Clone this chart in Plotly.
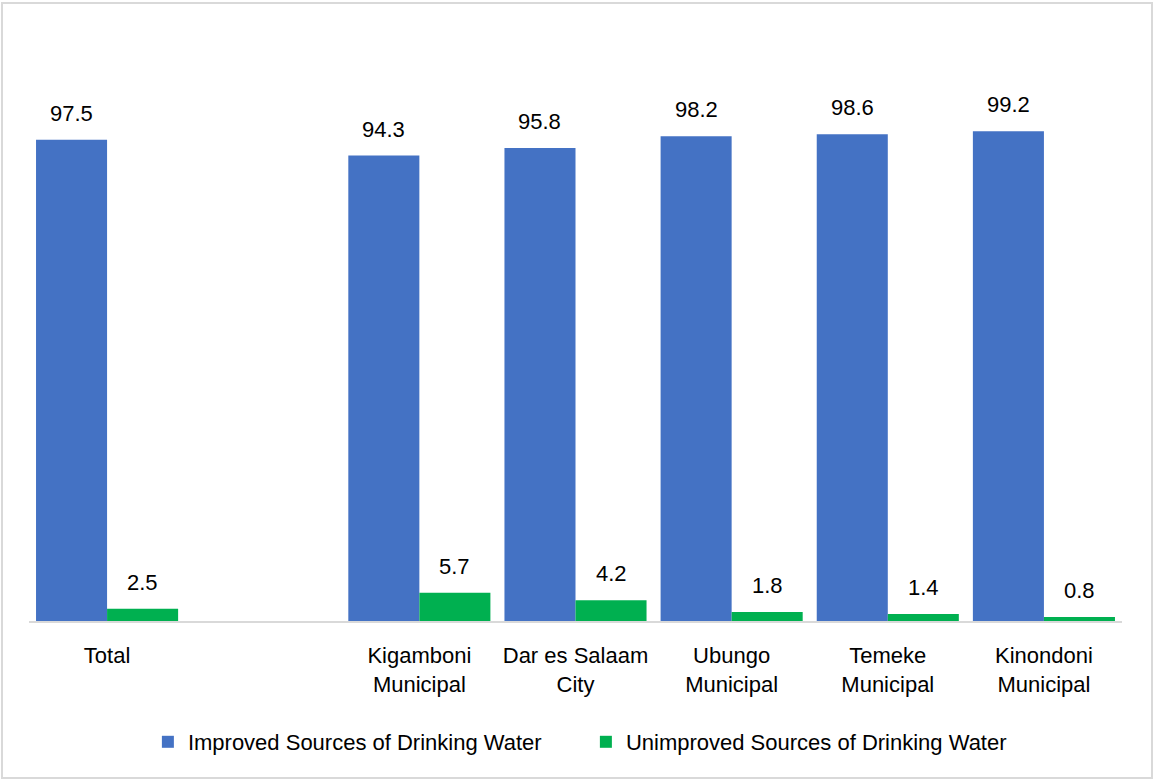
import plotly.graph_objects as go

# Share of households by source of drinking water (%)
categories = ["Total", "Kigamboni<br>Municipal", "Dar es Salaam<br>City",
              "Ubungo<br>Municipal", "Temeke<br>Municipal", "Kinondoni<br>Municipal"]
improved = [97.5, 94.3, 95.8, 98.2, 98.6, 99.2]
unimproved = [2.5, 5.7, 4.2, 1.8, 1.4, 0.8]
series_names = ["Improved Sources of Drinking Water", "Unimproved Sources of Drinking Water"]

# "Total" stands apart from the councils with one empty slot between them
positions = [0] + [i + 1 for i in range(1, len(categories))]

FONT = "Liberation Sans, Arial, sans-serif"
FS = 22
BLUE = "#4472C4"
GREEN = "#00B050"

W, H = 1154, 780
ML, MR, MT, MB = 29, 32, 78, 159
PW, PH = W - ML - MR, H - MT - MB

BARGAP = 0.09
half = (1 - BARGAP) / 4  # offset of each bar centre from its slot centre

fig = go.Figure()
fig.add_trace(go.Bar(x=positions, y=improved, name=series_names[0],
                     marker=dict(color=BLUE, line=dict(width=0))))
fig.add_trace(go.Bar(x=positions, y=unimproved, name=series_names[1],
                     marker=dict(color=GREEN, line=dict(width=0))))

# value labels sitting a little above each bar
for values, shift in ((improved, -half), (unimproved, half)):
    for p, v in zip(positions, values):
        fig.add_annotation(x=p + shift, y=v, text=f"{v:.1f}", showarrow=False,
                           xanchor="center", yanchor="bottom", yshift=12,
                           font=dict(size=FS, family=FONT, color="#000000"))

# light grey frame around the whole figure
fig.add_shape(type="rect", xref="paper", yref="paper",
              x0=(2 - ML) / PW, x1=(W - 2 - ML) / PW,
              y0=(MT + PH - (H - 2)) / PH, y1=(MT + PH - 3) / PH,
              line=dict(color="#D9D9D9", width=2), fillcolor="rgba(0,0,0,0)", layer="below")

fig.update_layout(
    width=W, height=H,
    margin=dict(l=ML, r=MR, t=MT, b=MB, pad=0),
    paper_bgcolor="#FFFFFF", plot_bgcolor="#FFFFFF",
    barmode="group", bargap=BARGAP, bargroupgap=0,
    font=dict(family=FONT, size=FS, color="#000000"),
    showlegend=True,
    legend=dict(orientation="h", x=0.5095, xanchor="center", y=(MT + PH - 742) / PH,
                yanchor="middle", font=dict(size=FS, family=FONT, color="#000000"),
                entrywidth=393, traceorder="normal", bgcolor="rgba(0,0,0,0)"),
    xaxis=dict(tickmode="array", tickvals=positions, ticktext=categories,
               range=[-0.5, 6.5], showgrid=False, zeroline=False,
               showline=True, linecolor="#D9D9D9", linewidth=2,
               ticks="outside", ticklen=14, tickcolor="rgba(0,0,0,0)",
               tickfont=dict(size=FS, family=FONT, color="#000000")),
    yaxis=dict(range=[0, 110], visible=False, showgrid=False, zeroline=False),
)

fig.write_html("out.html")
